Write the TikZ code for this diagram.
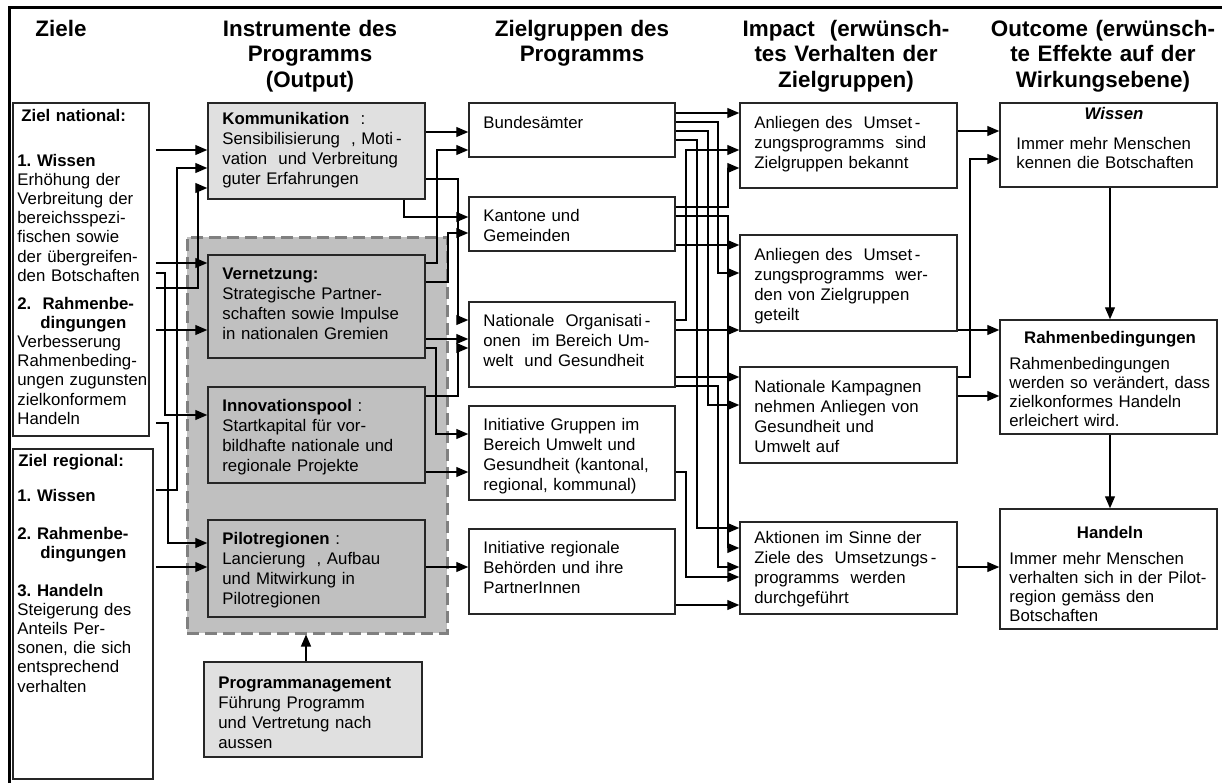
\documentclass[tikz,border=0pt]{standalone}
\usepackage{fontspec}
\setmainfont{Liberation Sans}
\usetikzlibrary{arrows.meta,fit,calc}
\definecolor{lgray}{HTML}{E0E0E0}
\definecolor{mgray}{HTML}{C0C0C0}
\definecolor{dgray}{HTML}{808080}
\frenchspacing
\begin{document}
\begin{tikzpicture}[x=0.5pt,y=-0.5pt,
  box/.style={draw=black!85, line width=0.75pt, inner sep=0pt, fill=white},
  lbox/.style={box, fill=lgray},
  gbox/.style={box, fill=mgray},
  arr/.style={line width=0.6pt, -{Triangle[length=6pt,width=5pt]}},
  t1/.style={inner sep=0pt, anchor=base west, text width=112pt, align=left, font=\fontsize{8.4}{9.6}\selectfont},
  t2/.style={t1, font=\fontsize{8.4}{10}\selectfont},
  ttl/.style={inner sep=0pt, anchor=base, font=\fontsize{8.4}{10}\selectfont\bfseries},
  hd/.style={inner sep=0pt, anchor=base, text width=140pt, align=center, font=\fontsize{11.2}{12.75}\selectfont\bfseries},
]
\useasboundingbox (0,0) rectangle (1222,783);
% frame
\draw[line width=1.5pt] (9,783) -- (9,7) -- (1222,7);

% headers
\node[hd] (h1) at (61,36) {Ziele};
\node[hd] (h2) at (310,36) {Instrumente des\\Programms\\(Output)};
\node[hd] (h3) at (582,36) {Zielgruppen des\\Programms};
\node[hd] (h4) at (846,36) {Impact\ \ (erwünsch-\\tes Verhalten der\\Zielgruppen)};
\node[hd] (h5) at (1103,36) {Outcome (erwünsch-\\te Effekte auf der\\Wirkungsebene)};

% column 1
\node[box, fit={(13,103)(149,436)}] (znat) {};
\node[box, fit={(13,449)(153,779)}] (zreg) {};
% dashed region
\node[fill=mgray, draw=dgray, line width=1.5pt, dash pattern=on 6pt off 3pt, inner sep=0pt, fit={(187,237)(447,633)}] (region) {};
% column 2
\node[lbox, fit={(208,103)(425,199)}] (komm) {};
\node[gbox, fit={(208,255)(425,358)}] (vern) {};
\node[gbox, fit={(208,387)(425,483)}] (inno) {};
\node[gbox, fit={(208,520)(425,617)}] (pilot) {};
\node[lbox, fit={(204,662)(422,757)}] (pm) {};
% column 3
\node[box, fit={(469,103)(675,157)}] (bund) {};
\node[box, fit={(469,197)(675,251)}] (kant) {};
\node[box, fit={(469,302)(675,387)}] (natorg) {};
\node[box, fit={(469,406)(675,500)}] (igr) {};
\node[box, fit={(469,529)(675,614)}] (ireg) {};
% column 4
\node[box, fit={(740,103)(957,188)}] (bek) {};
\node[box, fit={(740,235)(957,331)}] (get) {};
\node[box, fit={(740,367)(957,463)}] (kamp) {};
\node[box, fit={(740,522)(957,614)}] (akt) {};
% column 5
\node[box, fit={(1000,103)(1217,187)}] (owis) {};
\node[box, fit={(1000,320)(1217,434)}] (orah) {};
\node[box, fit={(1000,509)(1217,629)}] (ohan) {};

% texts column 1
\node[t1] at (21,121) {\textbf{Ziel national:}};
\node[t1] at (17,166) {\textbf{1. Wissen}\\Erhöhung der\\Verbreitung der\\bereichsspezi-\\fischen sowie\\der übergreifen-\\den Botschaften};
\node[t1] at (17,309) {\textbf{2.\ \ Rahmenbe-}\\\hspace*{11.5pt}\textbf{dingungen}\\Verbesserung\\Rahmenbeding-\\ungen zugunsten\\zielkonformem\\Handeln};
\node[t1] at (18,466) {\textbf{Ziel regional:}};
\node[t1] at (17,501) {\textbf{1. Wissen}};
\node[t1] at (17,539) {\textbf{2. Rahmenbe-}\\\hspace*{11.5pt}\textbf{dingungen}};
\node[t1] at (17,596) {\textbf{3. Handeln}\\Steigerung des\\Anteils Per-\\sonen, die sich\\entsprechend\\verhalten};

% texts column 2
\node[t2] at (222,124) {\textbf{Kommunikation}\ \ :\\Sensibilisierung\ \ , Moti\,-\\vation\ \ und Verbreitung\\guter Erfahrungen};
\node[t2] at (222,279) {\textbf{Vernetzung:}\\Strategische Partner-\\schaften sowie Impulse\\in nationalen Gremien};
\node[t2] at (222,411) {\textbf{Innovationspool}\ :\\Startkapital für vor-\\bildhafte nationale und\\regionale Projekte};
\node[t2] at (222,544) {\textbf{Pilotregionen}\ :\\Lancierung\ \ , Aufbau\\und Mitwirkung in\\Pilotregionen};
\node[t2] at (218,688) {\textbf{Programmanagement}\\Führung Programm\\und Vertretung nach\\aussen};

% texts column 3
\node[t2] at (483,128) {Bundesämter};
\node[t2] at (483,221) {Kantone und\\Gemeinden};
\node[t2] at (483,326) {Nationale\ \ Organisati\,-\\onen\ \ im Bereich Um-\\welt\ \ und Gesundheit};
\node[t2] at (483,430) {Initiative Gruppen im\\Bereich Umwelt und\\Gesundheit (kantonal,\\regional, kommunal)};
\node[t2] at (483,553) {Initiative regionale\\Behörden und ihre\\PartnerInnen};

% texts column 4
\node[t2] at (754,128) {Anliegen des\ \ Umset\,-\\zungsprogramms\ \ sind\\Zielgruppen bekannt};
\node[t2] at (754,260) {Anliegen des\ \ Umset\,-\\zungsprogramms\ \ wer-\\den von Zielgruppen\\geteilt};
\node[t2] at (754,392) {Nationale Kampagnen\\nehmen Anliegen von\\Gesundheit und\\Umwelt auf};
\node[t2] at (754,543) {Aktionen im Sinne der\\Ziele des\ \ Umsetzungs\,-\\programms\ \ werden\\durchgeführt};

% texts column 5
\node[ttl] at (1114,119) {\textbf{\textit{Wissen}}};
\node[t1] at (1016,149) {Immer mehr Menschen\\kennen die Botschaften};
\node[ttl] at (1110,343) {Rahmenbedingungen};
\node[t1] at (1009,369) {Rahmenbedingungen\\werden so verändert, dass\\zielkonformes Handeln\\erleichert wird.};
\node[ttl] at (1110,538) {Handeln};
\node[t1] at (1009,564) {Immer mehr Menschen\\verhalten sich in der Pilot-\\region gemäss den\\Botschaften};

% connectors column 1 -> 2
\coordinate (zn) at ([xshift=3pt]znat.east);
\coordinate (zr) at ([xshift=1pt]zreg.east);
\draw[arr] (zn |- 0,150) -- (komm.west |- 0,150);
\draw[arr] (zr |- 0,490) -- (177,490) -- (177,168) -- (komm.west |- 0,168);
\draw[arr] (zn |- 0,288) -- (198,288) -- (198,188) -- (komm.west |- 0,188);
\draw[arr] (zn |- 0,263) -- (vern.west |- 0,263);
\draw[arr] (zn |- 0,273) -- (165,273) -- (165,415) -- (inno.west |- 0,415);
\draw[arr] (zn |- 0,330) -- (vern.west |- 0,330);
\draw[arr] (zn |- 0,423) -- (168,423) -- (168,543) -- (pilot.west |- 0,543);
\draw[arr] (zr |- 0,567) -- (pilot.west |- 0,567);

% connectors column 2 -> 3
\draw[arr] (komm.east |- 0,132) -- (bund.west |- 0,132);
\draw[arr] (vern.east |- 0,263) -- (437,263) -- (437,150) -- (bund.west |- 0,150);
\draw[arr] (komm.east |- 0,179) -- (458,179) -- (458,320) -- (natorg.west |- 0,320);
\draw[arr] (komm.south -| 404,0) -- (404,217) -- (kant.west |- 0,217);
\draw[arr] (vern.east |- 0,282) -- (448,282) -- (448,233) -- (kant.west |- 0,233);
\draw[arr] (vern.east |- 0,339) -- (natorg.west |- 0,339);
\draw[arr] (vern.east |- 0,348) -- (436,348) -- (436,434) -- (igr.west |- 0,434);
\draw[arr] (inno.east |- 0,396) -- (458,396) -- (458,348) -- (natorg.west |- 0,348);
\draw[arr] (inno.east |- 0,472) -- (igr.west |- 0,472);
\draw[arr] (pilot.east |- 0,567) -- (ireg.west |- 0,567);

% connectors column 3 -> 4
\draw[arr] (bund.east |- 0,113) -- (bek.west |- 0,113);
\draw[arr] (bund.east |- 0,122) -- (718,122) -- (718,273) -- (get.west |- 0,273);
\draw[arr] (bund.east |- 0,131) -- (708,131) -- (708,405) -- (kamp.west |- 0,405);
\draw[arr] (bund.east |- 0,140) -- (697,140) -- (697,528) -- (akt.west |- 0,528);
\draw[arr] (natorg.east |- 0,320) -- (686,320) -- (686,150) -- (bek.west |- 0,150);
\draw[arr] (kant.east |- 0,207) -- (728,207) -- (728,168) -- (bek.west |- 0,168);
\draw[arr] (kant.east |- 0,216) -- (728,216) -- (728,548) -- (akt.west |- 0,548);
\draw[arr] (kant.east |- 0,245) -- (get.west |- 0,245);
\draw[arr] (natorg.east |- 0,330) -- (get.west |- 0,330);
\draw[arr] (natorg.east |- 0,377) -- (kamp.west |- 0,377);
\draw[arr] (natorg.east |- 0,386) -- (718,386) -- (718,567) -- (akt.west |- 0,567);
\draw[arr] (igr.east |- 0,472) -- (686,472) -- (686,577) -- (akt.west |- 0,577);
\draw[arr] (ireg.east |- 0,605) -- (akt.west |- 0,605);

% connectors column 4 -> 5
\draw[arr] (bek.east |- 0,131) -- (owis.west |- 0,131);
\draw[arr] (kamp.east |- 0,377) -- (970,377) -- (970,159) -- (owis.west |- 0,159);
\draw[arr] (get.east |- 0,330) -- (orah.west |- 0,330);
\draw[arr] (kamp.east |- 0,396) -- (orah.west |- 0,396);
\draw[arr] (akt.east |- 0,567) -- (ohan.west |- 0,567);
\draw[arr] (owis.south -| 1110,0) -- (orah.north -| 1110,0);
\draw[arr] (orah.south -| 1110,0) -- (ohan.north -| 1110,0);
\draw[arr] (pm.north -| 306,0) -- (region.south -| 306,0);
\end{tikzpicture}
\end{document}
